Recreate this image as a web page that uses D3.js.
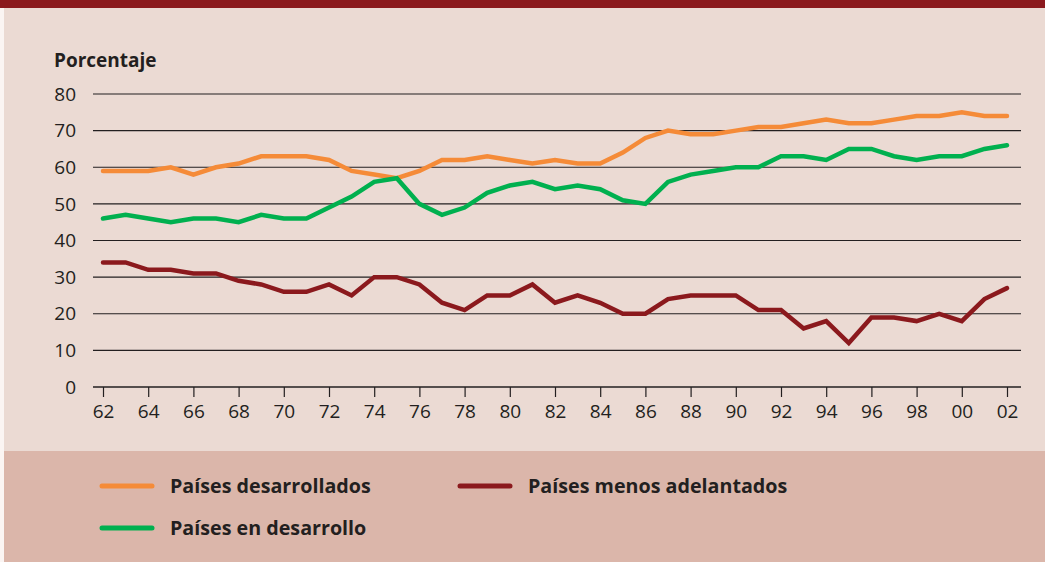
<!DOCTYPE html>
<html>
<head>
<meta charset="utf-8">
<script src="https://cdn.jsdelivr.net/npm/d3@7"></script>
<style>
  body { margin: 0; padding: 0; background: #fff; }
  svg { display: block; }
  .tick text { font-family: "Open Sans", sans-serif; }
</style>
</head>
<body>
<div id="chart"></div>
<script>
var years = d3.range(1962, 2003);
var tickYears = d3.range(1962, 2003, 2);
var yTicks = [0, 10, 20, 30, 40, 50, 60, 70, 80];

var desarrollados = [59, 59, 59, 60, 58, 60, 61, 63, 63, 63, 62, 59, 58, 57, 59, 62, 62, 63, 62, 61,
  62, 61, 61, 64, 68, 70, 69, 69, 70, 71, 71, 72, 73, 72, 72, 73, 74, 74, 75, 74, 74];
var enDesarrollo = [46, 47, 46, 45, 46, 46, 45, 47, 46, 46, 49, 52, 56, 57, 50, 47, 49, 53, 55, 56,
  54, 55, 54, 51, 50, 56, 58, 59, 60, 60, 63, 63, 62, 65, 65, 63, 62, 63, 63, 65, 66];
var menosAdelantados = [34, 34, 32, 32, 31, 31, 29, 28, 26, 26, 28, 25, 30, 30, 28, 23, 21, 25, 25, 28,
  23, 25, 23, 20, 20, 24, 25, 25, 25, 21, 21, 16, 18, 12, 19, 19, 18, 20, 18, 24, 27];

var seriesNames = ["Países desarrollados", "Países en desarrollo", "Países menos adelantados"];
var seriesColors = ["#f58b38", "#00b04f", "#8b191d"];
var series = [desarrollados, enDesarrollo, menosAdelantados];

var width = 1045, height = 562;
var svg = d3.select("#chart").append("svg")
  .attr("width", width)
  .attr("height", height);

// fondos
svg.append("rect").attr("x", 0).attr("y", 0).attr("width", width).attr("height", height).attr("fill", "#fbf5f3");
svg.append("rect").attr("x", 4).attr("y", 0).attr("width", width - 4).attr("height", 451).attr("fill", "#ebdad3");
svg.append("rect").attr("x", 4).attr("y", 451).attr("width", width - 4).attr("height", 111).attr("fill", "#dbb6aa");
svg.append("rect").attr("x", 0).attr("y", 0).attr("width", width).attr("height", 8).attr("fill", "#8b191d");

var x = d3.scaleLinear().domain([1962, 2002]).range([103, 1007]);
var y = d3.scaleLinear().domain([0, 80]).range([387, 94]);

// rejilla
svg.append("g")
  .selectAll("line")
  .data(yTicks.slice(1))
  .enter()
  .append("line")
  .attr("x1", 93)
  .attr("x2", 1021)
  .attr("y1", function(d) { return y(d); })
  .attr("y2", function(d) { return y(d); })
  .attr("stroke", "#231f20")
  .attr("stroke-width", 1.2);

// eje y (solo etiquetas)
svg.append("g")
  .selectAll("text")
  .data(yTicks)
  .enter()
  .append("text")
  .attr("x", 76)
  .attr("y", function(d) { return y(d); })
  .attr("dy", "0.35em")
  .attr("text-anchor", "end")
  .attr("font-family", "'Open Sans', sans-serif")
  .attr("font-size", 19)
  .attr("fill", "#231f20")
  .text(function(d) { return d; });

// eje x
var xAxis = d3.axisBottom(x)
  .tickValues(tickYears)
  .tickSize(10)
  .tickPadding(8)
  .tickFormat(function(d) { return String(d).slice(2); });

var gx = svg.append("g")
  .attr("transform", "translate(0," + y(0) + ")")
  .call(xAxis);
gx.select(".domain").remove();
gx.selectAll(".tick line").attr("stroke", "#231f20").attr("stroke-width", 1.2);
gx.selectAll(".tick text").attr("font-size", 19).attr("fill", "#231f20");
svg.append("line")
  .attr("x1", 93).attr("x2", 1021)
  .attr("y1", y(0)).attr("y2", y(0))
  .attr("stroke", "#231f20").attr("stroke-width", 1.4);

// titulo del eje
svg.append("text")
  .attr("x", 54)
  .attr("y", 67)
  .attr("font-family", "'Open Sans', sans-serif")
  .attr("font-weight", "bold")
  .attr("font-size", 19)
  .attr("fill", "#231f20")
  .text("Porcentaje");

// lineas
var line = d3.line()
  .x(function(d, i) { return x(years[i]); })
  .y(function(d) { return y(d); });

svg.append("g")
  .selectAll("path")
  .data(series)
  .enter()
  .append("path")
  .attr("d", line)
  .attr("fill", "none")
  .attr("stroke", function(d, i) { return seriesColors[i]; })
  .attr("stroke-width", 4.5)
  .attr("stroke-linejoin", "miter")
  .attr("stroke-linecap", "round");

// leyenda
var legendPos = [[102, 486], [102, 528], [460, 486]];
var legend = svg.append("g")
  .selectAll("g")
  .data(seriesNames)
  .enter()
  .append("g")
  .attr("transform", function(d, i) { return "translate(" + legendPos[i][0] + "," + legendPos[i][1] + ")"; });

legend.append("line")
  .attr("x1", 0).attr("x2", 50)
  .attr("stroke", function(d, i) { return seriesColors[i]; })
  .attr("stroke-width", 5)
  .attr("stroke-linecap", "round");

legend.append("text")
  .attr("x", 68)
  .attr("dy", "0.35em")
  .attr("font-family", "'Open Sans', sans-serif")
  .attr("font-weight", "bold")
  .attr("font-size", 19.7)
  .attr("fill", "#231f20")
  .text(function(d) { return d; });
</script>
</body>
</html>
